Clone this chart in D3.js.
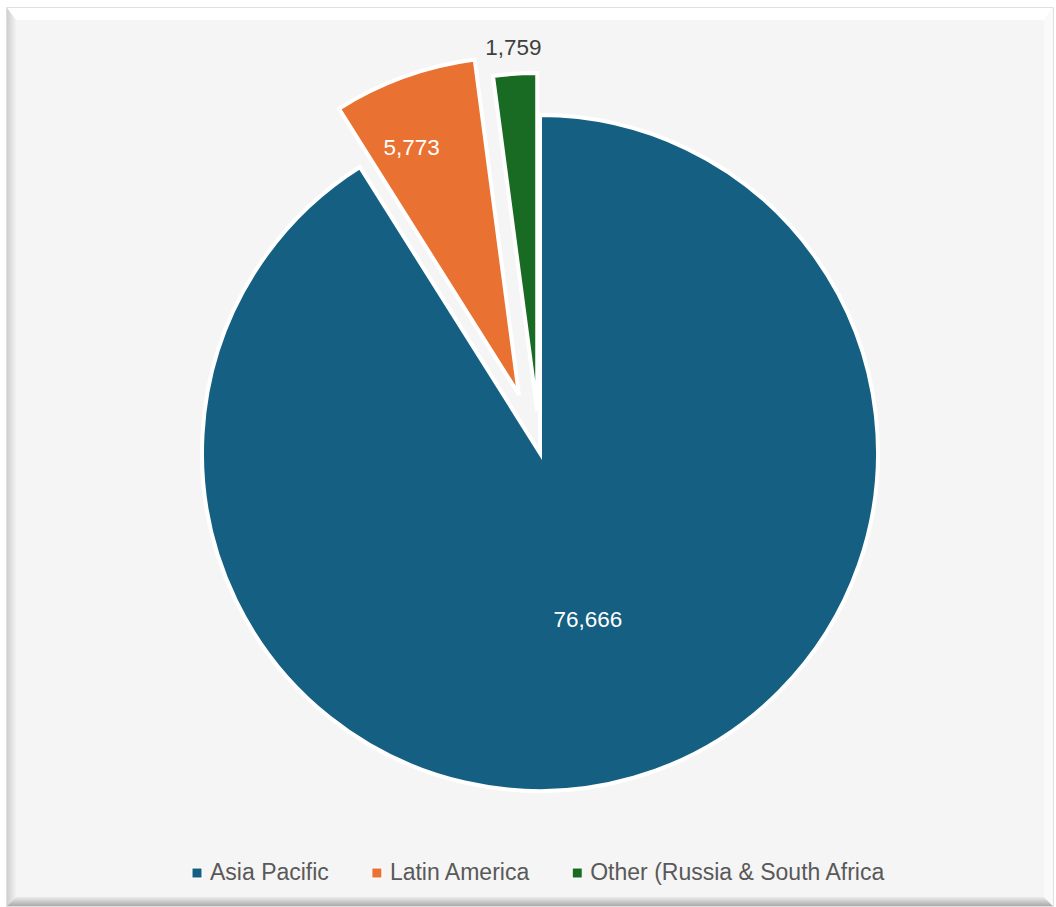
<!DOCTYPE html>
<html>
<head>
<meta charset="utf-8">
<script src="https://cdnjs.cloudflare.com/ajax/libs/d3/7.8.5/d3.min.js"></script>
<style>
  body { margin: 0; background: #fff; }
  text { font-family: "Liberation Sans", Arial, sans-serif; }
</style>
</head>
<body>
<script>
  // data
  var regions = ["Asia Pacific", "Latin America", "Other (Russia & South Africa"];
  var values = [76666, 5773, 1759];
  var colors = ["#156082", "#E97132", "#196B24"];

  var W = 1056, H = 907;
  var cx = 540, cy = 453, R = 338;
  // how far each slice is pulled out, px
  var explode = [0, 62, 42];

  var svg = d3.select("body").append("svg")
    .attr("width", W).attr("height", H);

  // frame with bevel
  var defs = svg.append("defs");
  var gl = defs.append("linearGradient").attr("id", "gl").attr("x1", 0).attr("x2", 1).attr("y1", 0).attr("y2", 0);
  gl.append("stop").attr("offset", 0).attr("stop-color", "#cfcfcf");
  gl.append("stop").attr("offset", 1).attr("stop-color", "#f3f3f3");
  var gb = defs.append("linearGradient").attr("id", "gb").attr("x1", 0).attr("x2", 0).attr("y1", 0).attr("y2", 1);
  gb.append("stop").attr("offset", 0).attr("stop-color", "#ececec");
  gb.append("stop").attr("offset", 1).attr("stop-color", "#a9a9a9");

  var x0 = 7, y0 = 8, x1 = 1053, y1 = 906, b = 9;
  svg.append("rect").attr("x", x0).attr("y", y0).attr("width", x1 - x0).attr("height", y1 - y0)
    .attr("fill", "#f5f5f5").attr("stroke", "#d6d6d6").attr("stroke-width", 1.5);
  svg.append("polygon").attr("fill", "#ffffff")
    .attr("points", [[x0, y0], [x1, y0], [x1 - b, y0 + 12], [x0 + b, y0 + 12]].join(" "));
  svg.append("polygon").attr("fill", "url(#gl)")
    .attr("points", [[x0, y0], [x0 + b, y0 + 12], [x0 + b, y1 - b], [x0, y1]].join(" "));
  svg.append("polygon").attr("fill", "url(#gb)")
    .attr("points", [[x0, y1], [x0 + b, y1 - b], [x1 - b, y1 - b], [x1, y1]].join(" "));
  svg.append("polygon").attr("fill", "#fafafa")
    .attr("points", [[x1, y0], [x1 - b, y0 + 12], [x1 - b, y1 - b], [x1, y1]].join(" "));

  // pie
  var pie = d3.pie().sort(null).value(function(d) { return d; });
  var arcs = pie(values);
  var arc = d3.arc().innerRadius(0).outerRadius(R);

  function offset(d, dist) {
    var a = (d.startAngle + d.endAngle) / 2;
    return [Math.sin(a) * dist, -Math.cos(a) * dist];
  }

  var g = svg.append("g").attr("transform", "translate(" + cx + "," + cy + ")");

  g.selectAll("path").data(arcs).enter().append("path")
    .attr("d", arc)
    .attr("transform", function(d, i) { return "translate(" + offset(d, explode[i]) + ")"; })
    .attr("fill", function(d, i) { return colors[i]; })
    .attr("stroke", "#ffffff")
    .attr("stroke-width", 4)
    .attr("stroke-linejoin", "miter");

  // data labels
  var labelR = [0.51, 0.8, 1.08];
  var labelTurn = [0, -3.5, 0]; // degrees
  var fmt = d3.format(",");
  g.selectAll("text.lbl").data(arcs).enter().append("text")
    .attr("class", "lbl")
    .attr("transform", function(d, i) {
      var o = offset(d, explode[i]);
      var a = (d.startAngle + d.endAngle) / 2 + labelTurn[i] * Math.PI / 180;
      var x = o[0] + Math.sin(a) * R * labelR[i];
      var y = o[1] - Math.cos(a) * R * labelR[i];
      return "translate(" + x + "," + y + ")";
    })
    .attr("text-anchor", "middle")
    .attr("dy", "0.36em")
    .attr("font-size", 22.5)
    .attr("fill", function(d, i) { return labelR[i] > 1 ? "#404040" : "#ffffff"; })
    .text(function(d) { return fmt(d.data); });

  // legend
  var legend = svg.append("g").attr("transform", "translate(192,880)");
  var lx = 0;
  regions.forEach(function(name, i) {
    legend.append("rect").attr("x", lx).attr("y", -12).attr("width", 10).attr("height", 10)
      .attr("fill", colors[i]).attr("stroke", "#ffffff").attr("stroke-width", 1);
    var t = legend.append("text").attr("x", lx + 18).attr("y", 0)
      .attr("font-size", 23).attr("fill", "#595959")
      .text(name);
    lx += 18 + t.node().getComputedTextLength() + 43;
  });
</script>
</body>
</html>
